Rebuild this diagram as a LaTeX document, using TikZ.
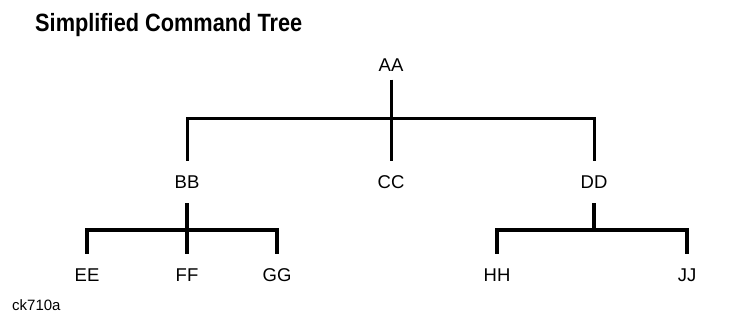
\documentclass[tikz,border=0pt]{standalone}
\usepackage{fontspec}
\setmainfont{Liberation Sans}
\newfontfamily\titlefont[FakeStretch=0.87]{Liberation Sans}
\begin{document}
\begin{tikzpicture}[x=1pt,y=-1pt,
  lbl/.style={font=\fontsize{18.5}{20}\selectfont, text height=13pt, text depth=0pt, inner xsep=0pt, inner ysep=14.5pt},
  branch/.style={line width=3pt, line cap=butt},
  twig/.style={line width=3.5pt, line cap=butt}]
\useasboundingbox (0,0) rectangle (735,330);
\node[anchor=base west, font=\titlefont\bfseries\fontsize{25}{29}\selectfont, inner sep=0pt] (title) at (35,31) {Simplified Command Tree};
\node[lbl, inner ysep=8pt] (AA) at (391,65) {AA};
\node[lbl] (BB) at (187,182) {BB};
\node[lbl] (CC) at (391,182) {CC};
\node[lbl] (DD) at (594,182) {DD};
\node[lbl] (EE) at (87,275) {EE};
\node[lbl] (FF) at (187,275) {FF};
\node[lbl] (GG) at (277,275) {GG};
\node[lbl] (HH) at (497,275) {HH};
\node[lbl] (JJ) at (687,275) {JJ};
\node[anchor=west, font=\fontsize{15}{17}\selectfont, inner sep=0pt] (fig) at (12,305) {ck710a};
% level 1
\draw[branch] (AA.south) -- (CC.north);
\draw[branch] (BB.north) |- (AA.south |- 0,118) -| (DD.north);
% level 2 left
\draw[twig] (BB.south) -- (FF.north);
\draw[twig] (EE.north) |- (FF.north |- 0,230) -| (GG.north);
% level 2 right
\draw[twig] (DD.south) -- (DD.south |- 0,230);
\draw[twig] (HH.north) |- (DD.south |- 0,230) -| (JJ.north);
\end{tikzpicture}
\end{document}
